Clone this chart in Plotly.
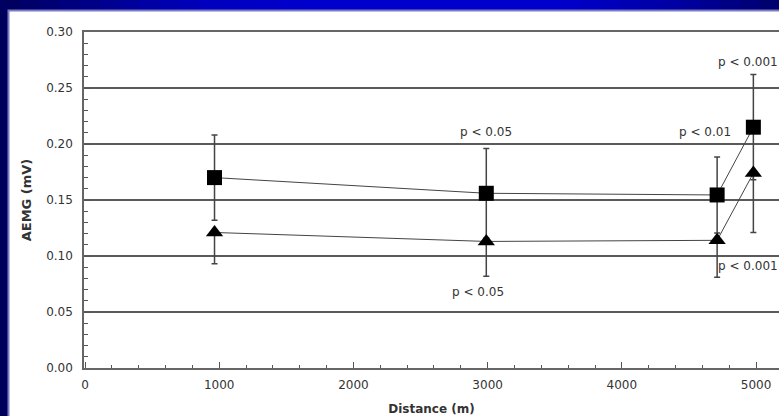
import plotly.graph_objects as go

# ---------------- data ----------------
distance = [965, 2990, 4710, 4980]          # m
aemg_square = [0.170, 0.156, 0.1545, 0.215]  # mV
err_square = [0.038, 0.040, 0.034, 0.047]
aemg_triangle = [0.121, 0.113, 0.114, 0.174]
err_triangle = [0.028, 0.031, 0.033, 0.053]

x_ticks = [0, 1000, 2000, 3000, 4000, 5000]
y_ticks = [0.00, 0.05, 0.10, 0.15, 0.20, 0.25, 0.30]
x_title = "Distance (m)"
y_title = "AEMG (mV)"

W, H = 779, 416
ML, MR, MT, MB = 84, 0, 32, 48
PW, PH = W - ML - MR, H - MT - MB
TXT = "#333333"
FONT = "DejaVu Sans"


def px_x(p):
    return (p - ML) / PW


def px_y(p):
    return (H - MB - p) / PH


fig = go.Figure()

fig.add_trace(go.Scatter(
    x=distance, y=aemg_square, mode="lines+markers",
    line=dict(color="#444444", width=1),
    marker=dict(symbol="square", size=15, color="black"),
    error_y=dict(type="data", array=err_square, visible=True,
                 color="#444444", thickness=1.5, width=3),
    showlegend=False, cliponaxis=False,
))
fig.add_trace(go.Scatter(
    x=distance, y=aemg_triangle, mode="lines+markers",
    line=dict(color="#444444", width=1),
    marker=dict(symbol="triangle-up", size=15, color="black"),
    error_y=dict(type="data", symmetric=False, array=[0] * len(err_triangle),
                 arrayminus=err_triangle, visible=True,
                 color="#444444", thickness=1.5, width=3),
    showlegend=False, cliponaxis=False,
))

# ---------------- p-value labels, anchored to the data ----------------
afont = dict(family=FONT, size=12, color=TXT)
ann = [
    dict(x=distance[1], y=aemg_square[1] + err_square[1], text="p < 0.05",
         yshift=16, xanchor="center"),
    dict(x=distance[1], y=aemg_triangle[1] - err_triangle[1], text="p < 0.05",
         yshift=-16, xshift=-8, xanchor="center"),
    dict(x=distance[3], y=aemg_square[3], text="p < 0.01",
         yshift=-5, xshift=-48, xanchor="center"),
    dict(x=distance[3], y=aemg_square[3] + err_square[3], text="p < 0.001",
         yshift=13, xshift=-37, xanchor="left"),
    dict(x=distance[3], y=aemg_triangle[3] - err_triangle[3], text="p < 0.001",
         yshift=-34, xshift=-37, xanchor="left"),
]
for a in ann:
    fig.add_annotation(xref="x", yref="y", showarrow=False, yanchor="middle",
                       font=afont, **a)

# ---------------- slide background ----------------
shapes = []
stops = [(0, (0, 0, 0x5c)), (200, (0, 0, 0xbc)), (300, (0, 0, 0xcc)),
         (560, (0, 0, 0xcc)), (680, (0, 0, 0xa0)), (779, (0, 0, 0x6a))]


def col_at(x):
    for (x0, c0), (x1, c1) in zip(stops[:-1], stops[1:]):
        if x0 <= x <= x1:
            t = (x - x0) / (x1 - x0)
            return "rgb(%d,%d,%d)" % tuple(round(a + (b - a) * t) for a, b in zip(c0, c1))
    return "rgb(0,0,100)"


step = 20
for x0 in range(0, W, step):
    shapes.append(dict(type="rect", xref="paper", yref="paper", layer="below",
                       x0=px_x(x0), x1=px_x(x0 + step + 1), y0=px_y(0), y1=px_y(11),
                       fillcolor=col_at(x0 + step / 2), line=dict(width=0)))
# white panel
shapes.append(dict(type="rect", xref="paper", yref="paper", layer="below",
                   x0=px_x(8.5), x1=px_x(W + 10), y0=px_y(10.5), y1=px_y(H + 10),
                   fillcolor="white", line=dict(color="#7c7cc4", width=2)))

fig.update_layout(
    width=W, height=H,
    margin=dict(l=ML, r=MR, t=MT, b=MB, autoexpand=False),
    paper_bgcolor="#00005a",
    plot_bgcolor="rgba(0,0,0,0)",
    shapes=shapes,
    font=dict(family=FONT, size=12, color=TXT),
)

fig.update_xaxes(
    automargin=False,
    range=[-7.5, 5171], tickvals=x_ticks, ticktext=[str(v) for v in x_ticks],
    showgrid=False, zeroline=False,
    showline=True, linecolor="#666666", linewidth=1.5, mirror=True,
    ticks="inside", ticklen=6, tickcolor="#555555", tickwidth=1,
    minor=dict(dtick=200, ticks="inside", ticklen=3, tickcolor="#555555", showgrid=False),
    tickfont=dict(family=FONT, size=12, color=TXT), ticklabelstandoff=5,
    title=dict(text="<b>%s</b>" % x_title, font=dict(family=FONT, size=12, color=TXT),
               standoff=13),
)
fig.update_yaxes(
    automargin=False,
    range=[0, 0.30], tickvals=y_ticks, tickformat=".2f",
    showgrid=True, gridcolor="#5a5a5a", gridwidth=2, zeroline=False,
    showline=True, linecolor="#666666", linewidth=1.5,
    ticks="inside", ticklen=6, tickcolor="#555555", tickwidth=1,
    minor=dict(dtick=0.01, ticks="inside", ticklen=4, tickcolor="#555555", showgrid=False),
    tickfont=dict(family=FONT, size=12, color=TXT), ticklabelstandoff=7,
    title=dict(text="<b>%s</b>" % y_title, font=dict(family=FONT, size=13, color=TXT),
               standoff=12),
)

fig.write_html(
    "out.html",
    config={"displayModeBar": False},
    post_script="document.body.style.margin='0px';document.body.style.overflow='hidden';",
)
